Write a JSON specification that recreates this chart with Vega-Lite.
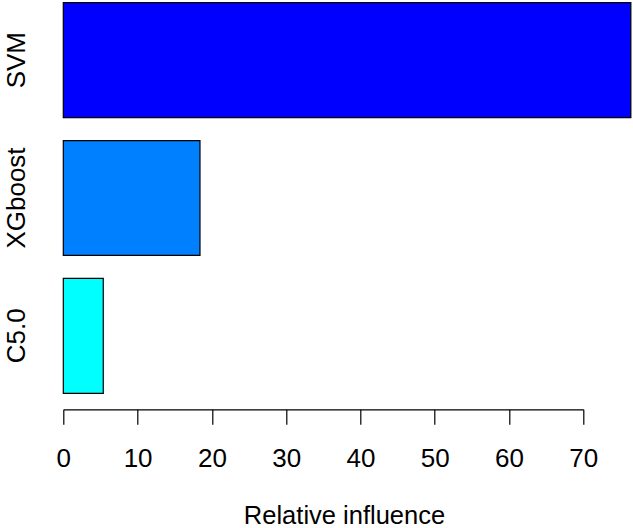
{
  "$schema": "https://vega.github.io/schema/vega-lite/v6.json",
  "autosize": {"type": "none"},
  "padding": {"left": 63.3, "top": 2.7, "right": 1.7, "bottom": 134.7},
  "width": 568,
  "height": 390.6,
  "background": "white",
  "config": {
    "view": {"stroke": null},
    "font": "Liberation Sans",
    "axis": {"labelColor": "black", "titleColor": "black", "labelFont": "Liberation Sans", "titleFont": "Liberation Sans", "titleFontWeight": "normal"}
  },
  "data": {
    "values": [
      {"model": "SVM", "influence": 76.4},
      {"model": "XGboost", "influence": 18.4},
      {"model": "C5.0", "influence": 5.38}
    ]
  },
  "mark": {"type": "bar", "stroke": "black", "strokeWidth": 1.2, "clip": false},
  "encoding": {
    "y": {
      "field": "model",
      "type": "nominal",
      "sort": ["SVM", "XGboost", "C5.0"],
      "scale": {"paddingInner": 0.1667, "paddingOuter": 0},
      "axis": {
        "title": null,
        "domain": false,
        "ticks": false,
        "tickSize": 0,
        "labelAngle": -90,
        "labelAlign": "center",
        "labelBaseline": "alphabetic",
        "labelPadding": 39,
        "labelFontSize": 26
      }
    },
    "x": {
      "field": "influence",
      "type": "quantitative",
      "scale": {"domain": [0, 70], "range": [0, 520], "nice": false, "clamp": false},
      "axis": {
        "title": "Relative influence",
        "values": [0, 10, 20, 30, 40, 50, 60, 70],
        "grid": false,
        "offset": 16,
        "domainColor": "black",
        "domainWidth": 1.2,
        "tickColor": "black",
        "tickWidth": 1.2,
        "tickSize": 15,
        "labelFontSize": 26,
        "labelBaseline": "alphabetic",
        "labelPadding": 42,
        "labelFlush": false,
        "titleFontSize": 25.5,
        "titleX": 280.7,
        "titleY": 114,
        "titleAlign": "center",
        "titleBaseline": "alphabetic"
      }
    },
    "color": {
      "field": "model",
      "type": "nominal",
      "scale": {"domain": ["SVM", "XGboost", "C5.0"], "range": ["#0000FF", "#007FFF", "#00FFFF"]},
      "legend": null
    }
  }
}
